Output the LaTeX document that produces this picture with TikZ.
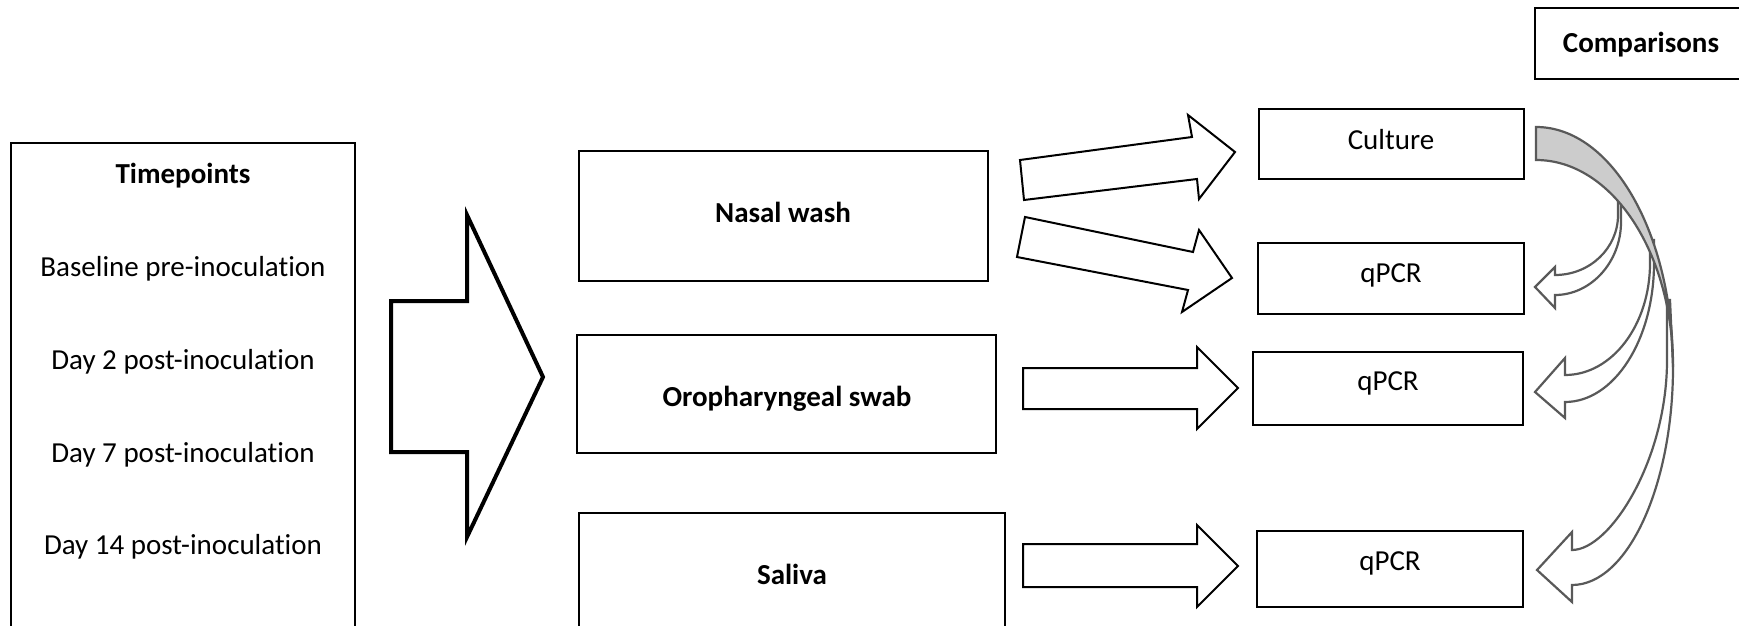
\documentclass[tikz,border=0pt]{standalone}
\usepackage{fontspec}
\setmainfont{Carlito}[Ligatures=NoCommon]
\usetikzlibrary{fit}
\definecolor{arrowgrey}{HTML}{595959}
\definecolor{bandgrey}{HTML}{CCCCCC}
\tikzset{
  box/.style={draw=black, line width=1pt, inner sep=0pt, fill=white},
  lbl/.style={anchor=base, inner sep=0pt, font=\fontsize{14.5}{17}\selectfont},
  blbl/.style={anchor=base, inner sep=0pt, font=\fontsize{14.5}{17}\selectfont\bfseries},
  blockarrow/.style={draw=black, line width=1pt, fill=white, line join=miter},
  bigarrow/.style={draw=black, line width=2pt, fill=white, line join=miter},
  curvedarrow/.style={draw=arrowgrey, line width=1.1pt, fill=white, line join=miter},
  band/.style={draw=arrowgrey, line width=1.1pt, fill=bandgrey},
}
\begin{document}
\begin{tikzpicture}[x=0.5pt,y=-0.5pt]
\useasboundingbox (0,0) rectangle (1739,626);
\clip (0,0) rectangle (1739,626);

% header
\node[box, fit={(1535,8) (1745,79)}] (comp) {};
\node[blbl] (comptext) at (1641,53) {Comparisons};

% time points column
\node[box, fit={(11,143) (355,640)}] (tp) {};
\node[blbl] (tptitle) at (183,183) {Timepoints};
\node[lbl] (t0) at (183,276) {Baseline pre-inoculation};
\node[lbl] (t2) at (183,369) {Day 2 post-inoculation};
\node[lbl] (t7) at (183,462) {Day 7 post-inoculation};
\node[lbl] (t14) at (183,554) {Day 14 post-inoculation};

% big block arrow into the sample types
\draw[bigarrow] (391,301) -- (467,301) -- (467,215) -- (543,377)
  -- (467,537) -- (467,452) -- (391,452) -- cycle;

% sample types
\node[box, fit={(579,151) (988,281)}] (nasal) {};
\node[blbl] (nasaltext) at (783,222) {Nasal wash};
\node[box, fit={(577,335) (996,453)}] (oro) {};
\node[blbl] (orotext) at (787,406) {Oropharyngeal swab};
\node[box, fit={(579,513) (1005,640)}] (saliva) {};
\node[blbl] (salivatext) at (792,584) {Saliva};

% assays
\node[box, fit={(1259,109) (1524,179)}] (culture) {};
\node[lbl] (culturetext) at (1391,149) {Culture};
\node[box, fit={(1258,243) (1524,314)}] (qa) {};
\node[lbl] (qatext) at (1391,282) {qPCR};
\node[box, fit={(1253,352) (1523,425)}] (qb) {};
\node[lbl] (qbtext) at (1388,390) {qPCR};
\node[box, fit={(1257,531) (1523,607)}] (qc) {};
\node[lbl] (qctext) at (1390,570) {qPCR};

% block arrows from samples to assays
\draw[blockarrow] (1024,200) -- (1020,160) -- (1192,137) -- (1188,115)
  -- (1235,152) -- (1199,199) -- (1197,179) -- cycle;
\draw[blockarrow] (1025,217) -- (1017,257) -- (1188,290) -- (1182,312)
  -- (1232,278) -- (1199,230) -- (1193,252) -- cycle;
\draw[blockarrow] (1023,368) -- (1197,368) -- (1197,347) -- (1238,388)
  -- (1197,429) -- (1197,409) -- (1023,409) -- cycle;
\draw[blockarrow] (1023,544) -- (1197,544) -- (1197,525) -- (1238,566)
  -- (1197,607) -- (1197,587) -- (1023,587) -- cycle;

% curved comparison arrows, culture -> each qPCR
\draw[curvedarrow] (1618,190) -- (1618,215)
  .. controls (1618,248) and (1590,275) .. (1555,275)
  -- (1555,267) -- (1535,287) -- (1555,308) -- (1555,295)
  .. controls (1591,295) and (1621,262) .. (1621,222)
  -- (1621,190) -- cycle;
\draw[curvedarrow] (1650,240) -- (1650,263)
  .. controls (1650,325) and (1612,375) .. (1565,375)
  -- (1565,358) -- (1535,392) -- (1565,418) -- (1565,402)
  .. controls (1614,402) and (1654,340) .. (1654,263)
  -- (1654,240) -- cycle;
\draw[curvedarrow] (1667,300) -- (1667,360)
  .. controls (1667,460) and (1610,550) .. (1572,550)
  -- (1572,532) -- (1537,570) -- (1572,602) -- (1572,585)
  .. controls (1628,585) and (1673,485) .. (1673,367)
  -- (1670,300) -- cycle;

% shaded back of the curved arrows
\draw[band] (1536,127) .. controls (1612,127) and (1673,234) .. (1673,367)
  .. controls (1673,253) and (1612,160) .. (1536,160) -- cycle;
\end{tikzpicture}
\end{document}
